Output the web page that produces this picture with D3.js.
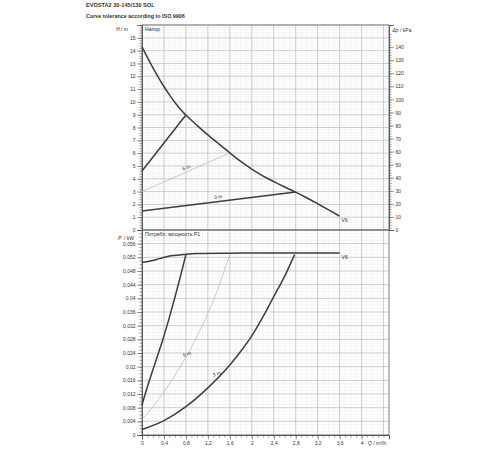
<!DOCTYPE html>
<html>
<head>
<meta charset="utf-8">
<script src="https://cdnjs.cloudflare.com/ajax/libs/d3/7.8.5/d3.min.js"></script>
<style>
  body { margin: 0; background: #fff; }
  svg text { font-family: "Liberation Sans", Arial, sans-serif; fill: #333; }
</style>
</head>
<body>
<svg id="chart" width="500" height="450"></svg>
<script>
// Q / m3/h, H / m : max curve V6
var v6Q = [0, 0.1, 0.2, 0.3, 0.4, 0.5, 0.6, 0.7, 0.8, 1.0, 1.2, 1.4, 1.6, 1.8, 2.0, 2.2, 2.4, 2.6, 2.8, 3.0, 3.2, 3.4, 3.6];
var v6H = [14.3, 13.45, 12.65, 11.9, 11.2, 10.55, 9.95, 9.43, 8.97, 8.17, 7.43, 6.72, 6.02, 5.35, 4.75, 4.22, 3.78, 3.36, 2.96, 2.52, 2.05, 1.57, 1.08];

// straight control lines (head)
var propQ = [0, 0.8];
var propH = [4.6, 8.97];
var m6Q = [0, 1.6];
var m6H = [3.0, 6.02];
var m3Q = [0, 2.8];
var m3H = [1.48, 2.96];

// power P1 / kW
var pV6Q = [0, 0.15, 0.33, 0.5, 0.75, 1.0, 1.6, 2.4, 3.0, 3.6];
var pV6P = [0.0505, 0.0509, 0.0517, 0.0524, 0.0528, 0.0531, 0.0532, 0.0533, 0.0533, 0.0533];
var pPropQ = [0, 0.1, 0.2, 0.3, 0.4, 0.5, 0.6, 0.7, 0.8];
var pPropP = [0.0088, 0.0142, 0.0192, 0.0240, 0.0290, 0.0345, 0.0403, 0.0464, 0.0528];
var p6Q = [0, 0.2, 0.4, 0.6, 0.8, 1.0, 1.2, 1.4, 1.6];
var p6P = [0.0046, 0.0083, 0.0126, 0.0174, 0.0228, 0.0288, 0.0356, 0.0435, 0.0528];
var p3Q = [0, 0.4, 0.8, 1.2, 1.6, 1.8, 2.0, 2.2, 2.4, 2.6, 2.78];
var p3P = [0.0016, 0.0042, 0.0083, 0.0138, 0.0205, 0.0245, 0.0290, 0.0345, 0.0405, 0.0465, 0.0528];

// tick labels
var qTicks = [0, 0.4, 0.8, 1.2, 1.6, 2, 2.4, 2.8, 3.2, 3.6, 4];
var hTicks = [0, 1, 2, 3, 4, 5, 6, 7, 8, 9, 10, 11, 12, 13, 14, 15];
var kpaTicks = [0, 10, 20, 30, 40, 50, 60, 70, 80, 90, 100, 110, 120, 130, 140];
var pTicks = [0, 0.004, 0.008, 0.012, 0.016, 0.02, 0.024, 0.028, 0.032, 0.036, 0.04, 0.044, 0.048, 0.052, 0.056];

var svg = d3.select("#chart");
var comma = function (v) { return String(+v.toFixed(4)).replace(".", ","); };
var pairs = function (xs, ys) { return xs.map(function (x, i) { return [x, ys[i]]; }); };

var x = d3.scaleLinear().domain([0, 4.5]).range([142, 389]);
var yH = d3.scaleLinear().domain([0, 16]).range([230, 25]);
var yK = d3.scaleLinear().domain([0, 16 * 9.81]).range([230, 25]);
var yP = d3.scaleLinear().domain([0, 0.06]).range([435, 230]);

// titles
svg.append("text").attr("x", 86).attr("y", 7).style("font-size", "5.6px").style("font-weight", "bold")
    .text("EVOSTA2 30-145/130 SOL");
svg.append("text").attr("x", 86).attr("y", 17.5).style("font-size", "5.4px").style("font-weight", "bold")
    .text("Curve tolerance according to ISO 9906");

function grid(g, yScale, minorStep, majorStep) {
    var d0 = yScale.domain();
    g.selectAll("line.vmin").data(d3.range(0, 4.5001, 0.1)).enter().append("line")
        .attr("x1", x).attr("x2", x).attr("y1", yScale(d0[0])).attr("y2", yScale(d0[1]))
        .attr("stroke", "#ececec").attr("stroke-width", 0.5);
    g.selectAll("line.hmin").data(d3.range(d0[0], d0[1] + 1e-9, minorStep)).enter().append("line")
        .attr("x1", x(0)).attr("x2", x(4.5)).attr("y1", yScale).attr("y2", yScale)
        .attr("stroke", "#ececec").attr("stroke-width", 0.5);
    g.selectAll("line.vmaj").data(d3.range(0.4, 4.5, 0.4)).enter().append("line")
        .attr("x1", x).attr("x2", x).attr("y1", yScale(d0[0])).attr("y2", yScale(d0[1]))
        .attr("stroke", "#bdbdbd").attr("stroke-width", 0.7);
    g.selectAll("line.hmaj").data(d3.range(d0[0], d0[1] + 1e-9, majorStep)).enter().append("line")
        .attr("x1", x(0)).attr("x2", x(4.5)).attr("y1", yScale).attr("y2", yScale)
        .attr("stroke", "#bdbdbd").attr("stroke-width", 0.7);
}

grid(svg.append("g"), yH, 0.2, 1);
grid(svg.append("g"), yP, 0.001, 0.004);

// frames
svg.append("rect").attr("x", x(0)).attr("y", yH(16)).attr("width", x(4.5) - x(0)).attr("height", yH(0) - yH(16))
    .attr("fill", "none").attr("stroke", "#666").attr("stroke-width", 0.8);
svg.append("rect").attr("x", x(0)).attr("y", yP(0.06)).attr("width", x(4.5) - x(0)).attr("height", yP(0) - yP(0.06))
    .attr("fill", "none").attr("stroke", "#666").attr("stroke-width", 0.8);

function styleAxis(g) {
    g.select(".domain").attr("stroke", "#555").attr("stroke-width", 0.8);
    g.selectAll(".tick line").attr("stroke", "#555").attr("stroke-width", 0.6);
    g.selectAll(".tick text").style("font-size", "5px").attr("fill", "#444")
        .style("font-family", "Liberation Sans, Arial, sans-serif");
}

// left H axis
svg.append("g").attr("transform", "translate(" + x(0) + ",0)")
    .call(d3.axisLeft(yH).tickValues(d3.range(0, 16.001, 0.2)).tickSize(2.5).tickFormat(""))
    .call(styleAxis);
svg.append("g").attr("transform", "translate(" + x(0) + ",0)")
    .call(d3.axisLeft(yH).tickValues(hTicks).tickSize(5).tickPadding(1.5).tickFormat(comma))
    .call(styleAxis);
// right kPa axis
svg.append("g").attr("transform", "translate(" + x(4.5) + ",0)")
    .call(d3.axisRight(yK).tickValues(d3.range(0, 150.001, 2)).tickSize(2.5).tickFormat(""))
    .call(styleAxis);
svg.append("g").attr("transform", "translate(" + x(4.5) + ",0)")
    .call(d3.axisRight(yK).tickValues(kpaTicks).tickSize(5).tickPadding(1.5).tickFormat(comma))
    .call(styleAxis);
// left P axis
svg.append("g").attr("transform", "translate(" + x(0) + ",0)")
    .call(d3.axisLeft(yP).tickValues(d3.range(0, 0.0601, 0.001)).tickSize(2.5).tickFormat(""))
    .call(styleAxis);
svg.append("g").attr("transform", "translate(" + x(0) + ",0)")
    .call(d3.axisLeft(yP).tickValues(pTicks).tickSize(5).tickPadding(1.5).tickFormat(comma))
    .call(styleAxis);
// bottom Q axis
svg.append("g").attr("transform", "translate(0," + yP(0) + ")")
    .call(d3.axisBottom(x).tickValues(d3.range(0, 4.5001, 0.1)).tickSize(2.5).tickFormat(""))
    .call(styleAxis);
svg.append("g").attr("transform", "translate(0," + yP(0) + ")")
    .call(d3.axisBottom(x).tickValues(qTicks).tickSize(4.5).tickPadding(2).tickFormat(comma))
    .call(styleAxis);

// axis names
svg.append("text").attr("x", x(0) - 14).attr("y", yH(16) + 6).attr("text-anchor", "end").style("font-size", "5px")
    .html("<tspan font-style='italic'>H</tspan> / m");
svg.append("text").attr("x", x(4.5) + 3.5).attr("y", yH(16) + 7).style("font-size", "5px")
    .html("<tspan font-style='italic'>Δp</tspan> / kPa");
svg.append("text").attr("x", x(0) - 8).attr("y", yP(0.06) + 10).attr("text-anchor", "end").style("font-size", "5px")
    .html("<tspan font-style='italic'>P</tspan>&#160;&#160;/ kW");
svg.append("text").attr("x", x(4.5) - 3).attr("y", yP(0) + 9.5).attr("text-anchor", "end").style("font-size", "5px")
    .html("<tspan font-style='italic'>Q</tspan> / m³/h");
svg.append("text").attr("x", x(0) + 3).attr("y", yH(16) + 5.5).style("font-size", "5.2px").text("Напор");
svg.append("text").attr("x", x(0) + 3).attr("y", yP(0.06) + 6).style("font-size", "5.2px").text("Потребл. мощность P1");

// curves
var lineH = d3.line().x(function (d) { return x(d[0]); }).y(function (d) { return yH(d[1]); }).curve(d3.curveMonotoneX);
var lineP = d3.line().x(function (d) { return x(d[0]); }).y(function (d) { return yP(d[1]); }).curve(d3.curveMonotoneX);
var dark = "#3d3d3d", light = "#bcbcbc";

function draw(gen, data, color, w) {
    svg.append("path").attr("d", gen(data)).attr("fill", "none").attr("stroke", color)
        .attr("stroke-width", w).attr("stroke-linejoin", "round");
}

draw(lineH, pairs(m6Q, m6H), light, 0.8);
draw(lineH, pairs(propQ, propH), dark, 1.5);
draw(lineH, pairs(m3Q, m3H), dark, 1.5);
draw(lineH, pairs(v6Q, v6H), dark, 1.5);

draw(lineP, pairs(p6Q, p6P), light, 0.8);
draw(lineP, pairs(pPropQ, pPropP), dark, 1.5);
draw(lineP, pairs(p3Q, p3P), dark, 1.5);
draw(lineP, pairs(pV6Q, pV6P), dark, 1.5);

// curve labels
function label(px, py, txt, rot) {
    svg.append("text").attr("transform", "translate(" + px + "," + py + ") rotate(" + rot + ")")
        .attr("text-anchor", "middle").style("font-size", "5px").attr("fill", "#444").text(txt);
}
label(x(0.82), yH(4.75), "6 m", -20);
label(x(1.39), yH(2.45), "3 m", -6);
label(x(0.83), yP(0.0232), "6 m", -15);
label(x(1.37), yP(0.0174), "3 m", -15);
svg.append("text").attr("x", x(3.6) + 2).attr("y", yH(1.08) + 6).style("font-size", "5px").text("V6");
svg.append("text").attr("x", x(3.6) + 2).attr("y", yP(0.0533) + 6).style("font-size", "5px").text("V6");
</script>
</body>
</html>
